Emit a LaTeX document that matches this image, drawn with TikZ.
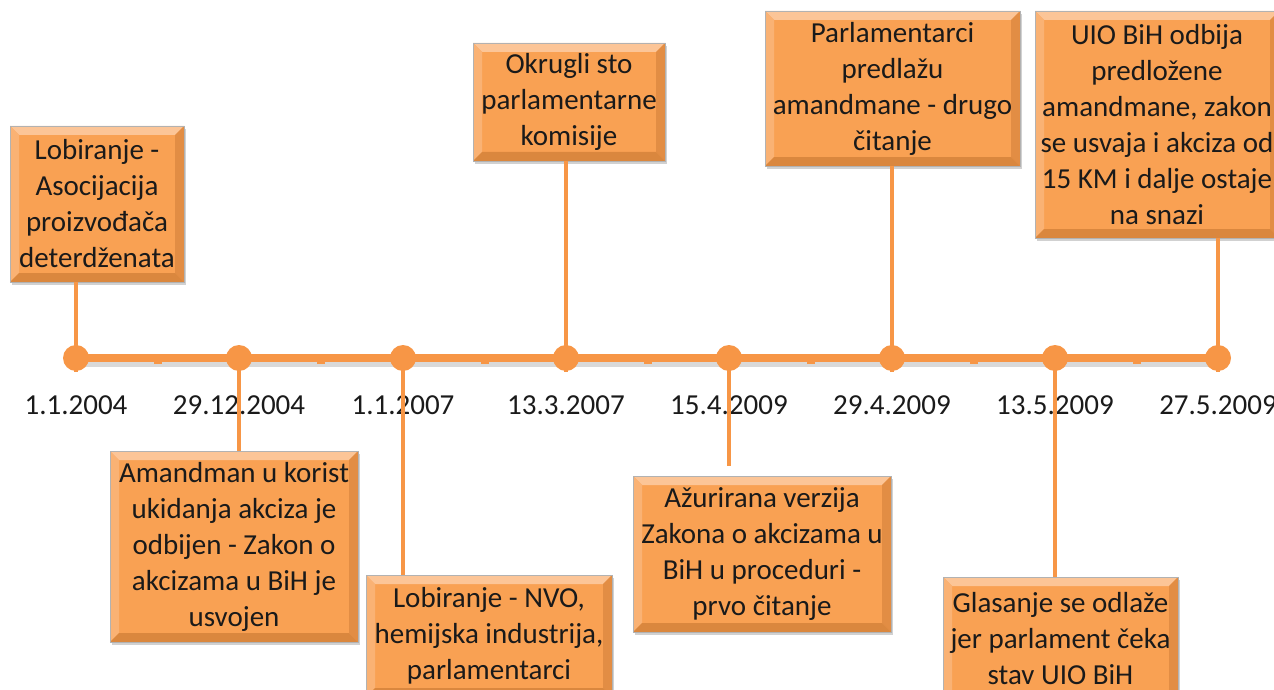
\documentclass[tikz,border=0pt]{standalone}
\usepackage{fontspec}
\setmainfont{Carlito}
\usetikzlibrary{shadows}
\definecolor{orline}{HTML}{F79646}
\definecolor{boxfill}{HTML}{F9A153}
\definecolor{bevtop}{HTML}{FCC597}
\definecolor{bevleft}{HTML}{FAB274}
\definecolor{bevright}{HTML}{E28D44}
\definecolor{bevbot}{HTML}{DA873E}
\definecolor{txt}{HTML}{1A1A1A}
\tikzset{
  evbox/.style={rectangle, fill=boxfill, draw=black!30, line width=0.6pt,
    align=center, inner sep=0pt, text=txt,
    font=\fontsize{29}{36}\selectfont,
    drop shadow={shadow xshift=2pt, shadow yshift=-3pt, opacity=0.3, fill=black!60},
    path picture={
      \path (path picture bounding box.south west) coordinate (bsw)
            (path picture bounding box.north east) coordinate (bne)
            (path picture bounding box.north west) coordinate (bnw)
            (path picture bounding box.south east) coordinate (bse);
      \fill[bevtop] (bnw) -- (bne) -- ([shift={(-9pt,-9pt)}]bne) -- ([shift={(9pt,-9pt)}]bnw) -- cycle;
      \fill[bevleft] (bnw) -- ([shift={(9pt,-9pt)}]bnw) -- ([shift={(9pt,9pt)}]bsw) -- (bsw) -- cycle;
      \fill[bevright] (bne) -- ([shift={(-9pt,-9pt)}]bne) -- ([shift={(-9pt,9pt)}]bse) -- (bse) -- cycle;
      \fill[bevbot] (bsw) -- ([shift={(9pt,9pt)}]bsw) -- ([shift={(-9pt,9pt)}]bse) -- (bse) -- cycle;
    }},
  dot/.style={circle, fill=orline, minimum size=26pt, inner sep=0pt},
  tick/.style={rectangle, fill=orline, minimum size=8pt, inner sep=0pt},
  tline/.style={draw=orline, line width=8pt},
  conn/.style={draw=orline, line width=4pt},
  datelbl/.style={anchor=base, text=txt, font=\fontsize{29}{34}\selectfont, inner sep=0pt},
}
\begin{document}
\begin{tikzpicture}[x=1pt, y=-1pt]
\useasboundingbox (0,0) rectangle (1274,690);
\clip (0,0) rectangle (1274,690);
% timeline
\coordinate (tl) at (76,358);
\coordinate (tr) at (1218,358);
\draw[line width=8pt, black, opacity=0.15, transform canvas={yshift=-5pt}] (tl) -- (tr);
\draw[tline] (tl) -- (tr);
\foreach \x [count=\i] in {157.5,321,484.5,647.5,810.5,973.5,1136.5}
  \node[tick] (t\i) at (\x,360) {};
\foreach \x [count=\i] in {76,239,403,566,729,892,1055,1218}
  \node[dot] (d\i) at (\x,358) {};
% dates
\node[datelbl] (l1) at (76,414) {1.1.2004};
\node[datelbl] (l2) at (239,414) {29.12.2004};
\node[datelbl] (l3) at (403,414) {1.1.2007};
\node[datelbl] (l4) at (566,414) {13.3.2007};
\node[datelbl] (l5) at (729,414) {15.4.2009};
\node[datelbl] (l6) at (892,414) {29.4.2009};
\node[datelbl] (l7) at (1055,414) {13.5.2009};
\node[datelbl] (l8) at (1218,414) {27.5.2009};
% boxes
\node[evbox, minimum width=174pt, minimum height=156pt] (b1) at (97,204)
  {Lobiranje -\\Asocijacija\\proizvođača\\deterdženata};
\node[evbox, minimum width=248pt, minimum height=191pt] (b2) at (234,546.5)
  {Amandman u korist\\ukidanja akciza je\\odbijen - Zakon o\\akcizama u BiH je\\usvojen};
\node[evbox, minimum width=246pt, minimum height=122pt] (b3) at (489,636)
  {Lobiranje - NVO,\\hemijska industrija,\\parlamentarci};
\node[evbox, minimum width=192pt, minimum height=118pt] (b4) at (569,102)
  {Okrugli sto\\parlamentarne\\komisije};
\node[evbox, minimum width=258pt, minimum height=156pt] (b5) at (762,554)
  {Ažurirana verzija\\Zakona o akcizama u\\BiH u proceduri -\\prvo čitanje};
\node[evbox, minimum width=255pt, minimum height=155pt] (b6) at (892.5,88.5)
  {Parlamentarci\\predlažu\\amandmane - drugo\\čitanje};
\node[evbox, minimum width=244pt, minimum height=227pt] (b7) at (1157,124.5)
  {UIO BiH odbija\\predložene\\amandmane, zakon\\se usvaja i akciza od\\15 KM i dalje ostaje\\na snazi};
\node[evbox, minimum width=235pt, minimum height=124pt] (b8) at (1060.5,639)
  {Glasanje se odlaže\\jer parlament čeka\\stav UIO BiH};
% connectors
\draw[conn] (d1 |- b1.south) -- ([yshift=-14pt]d1.center);
\draw[conn] (d2.center) -- (d2 |- b2.north);
\draw[conn] (d3.center) -- (d3 |- b3.north);
\draw[conn] (d4 |- b4.south) -- ([yshift=-14pt]d4.center);
\coordinate (e5) at (729,466);
\draw[conn] (d5.center) -- (e5);
\draw[conn] (d6 |- b6.south) -- ([yshift=-14pt]d6.center);
\draw[conn] (d7.center) -- (d7 |- b8.north);
\draw[conn] (d8 |- b7.south) -- ([yshift=-14pt]d8.center);
\end{tikzpicture}
\end{document}
